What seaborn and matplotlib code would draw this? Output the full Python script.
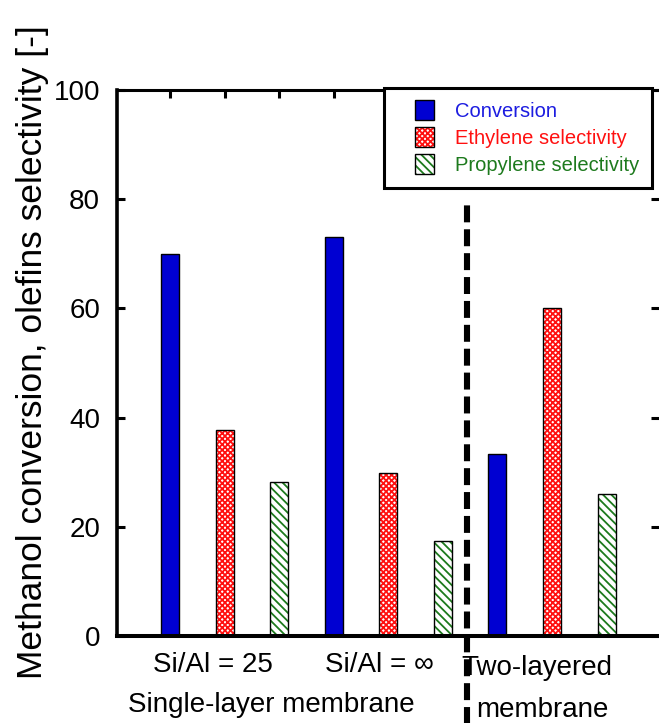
import numpy as np
import pandas as pd
import matplotlib.pyplot as plt
import seaborn as sns
from matplotlib.patches import Patch, Rectangle
from matplotlib.legend_handler import HandlerPatch

# values
groups = ["Si/Al = 25", "Si/Al = \u221e", "Two-layered membrane"]
series = ["Conversion", "Ethylene selectivity", "Propylene selectivity"]
conversion = [70.0, 73.1, 33.3]
ethylene = [37.7, 29.9, 60.0]
propylene = [28.2, 17.4, 26.0]

sns.set_style("ticks")
plt.rcParams["font.family"] = ["Liberation Sans", "DejaVu Sans"]
plt.rcParams["text.color"] = "black"
plt.rcParams["xtick.color"] = "black"
plt.rcParams["ytick.color"] = "black"
plt.rcParams["hatch.linewidth"] = 1.3
plt.rcParams["lines.scale_dashes"] = False

rows = []
for g, c, e, p in zip(groups, conversion, ethylene, propylene):
    for s, v in zip(series, [c, e, p]):
        rows.append({"key": g + " | " + s, "series": s, "value": v})
df = pd.DataFrame(rows)
order = list(df["key"])

face = {"Conversion": "#0000d2", "Ethylene selectivity": "white", "Propylene selectivity": "white"}
hatch_col = {"Conversion": "#0000d2", "Ethylene selectivity": "#ff1010", "Propylene selectivity": "#1d7a1d"}
hatches = {"Conversion": None, "Ethylene selectivity": "xxxxxx", "Propylene selectivity": "\\\\\\\\"}
text_col = {"Conversion": "#1c1ce0", "Ethylene selectivity": "#ff1010", "Propylene selectivity": "#1d7a1d"}

fig = plt.figure(figsize=(6.59, 7.23), dpi=100)
ax = fig.add_axes([117 / 659, 1 - 636 / 723, 1 - 117 / 659, (636 - 90) / 723])

sns.barplot(data=df, x="key", y="value", hue="series", order=order, hue_order=series,
            palette=face, dodge=False, width=0.33, legend=False, ax=ax)

for s, cont in zip(series, ax.containers):
    for bar in cont:
        bar.set_facecolor(face[s])
        bar.set_edgecolor(hatch_col[s])
        bar.set_linewidth(0)
        if hatches[s]:
            bar.set_hatch(hatches[s])
        ax.add_patch(Rectangle(bar.get_xy(), bar.get_width(), bar.get_height(),
                               fill=False, edgecolor="black", lw=1.0, zorder=3))

ax.set_xlim(-0.97, 8.96)
ax.set_ylim(0, 100)
ax.set_yticks([0, 20, 40, 60, 80, 100])
ax.set_xticks(range(len(order)))
ax.set_xticklabels([])
ax.set_xlabel("")
ax.set_ylabel("")
ax.tick_params(axis="both", direction="in", length=6, width=2.2, top=True, right=True,
               labeltop=False, labelright=False)
ax.tick_params(axis="y", labelsize=20, pad=12.2)
ax.tick_params(axis="x", labelbottom=False)

ax.spines["right"].set_visible(False)
ax.spines["left"].set_linewidth(2.6)
ax.spines["bottom"].set_linewidth(2.9)
ax.spines["top"].set_linewidth(2.2)
for sp in ax.spines.values():
    sp.set_color("black")

# divider between the two membrane types
ax.plot([5.45, 5.45], [-17, 78.9], color="black", lw=4.4, linestyle=(0, (12.2, 5.0)),
        clip_on=False, zorder=4)

trans = ax.get_xaxis_transform()
fs = 20
ax.text(0.79, -0.066, groups[0], transform=trans, ha="center", va="baseline", fontsize=fs)
ax.text(3.83, -0.066, groups[1], transform=trans, ha="center", va="baseline", fontsize=fs)
ax.text(1.85, -0.139, "Single-layer membrane", transform=trans, ha="center", va="baseline", fontsize=fs)
ax.text(6.72, -0.0714, "Two-layered", transform=trans, ha="center", va="baseline", fontsize=fs)
ax.text(6.83, -0.148, "membrane", transform=trans, ha="center", va="baseline", fontsize=fs)

fig.text(33 / 659, 1 - 352 / 723, "Methanol conversion, olefins selectivity [-]",
         rotation=90, ha="center", va="center", fontsize=25.5)


class OutlinedSquare(HandlerPatch):
    # hatched square at the right end of the handle area, with a black outline
    def create_artists(self, legend, orig_handle, xdescent, ydescent, width, height,
                       fontsize, trans):
        size = height + 1
        sq = Rectangle((width - size - xdescent, -ydescent - 0.5), size, size)
        self.update_prop(sq, orig_handle, legend)
        sq.set_transform(trans)
        outline = Rectangle(sq.get_xy(), size, size, fill=False, edgecolor="black",
                            lw=1.0, transform=trans)
        return [sq, outline]


handles = [Patch(facecolor=face[s], edgecolor=hatch_col[s], hatch=hatches[s], lw=0) for s in series]
leg = ax.legend(handles, series, loc="upper left", bbox_to_anchor=(0.493, 1.004),
                borderaxespad=0, fontsize=14.5, handlelength=1.83, handleheight=1.0,
                handletextpad=1.04, labelspacing=0.35, borderpad=0.65, fancybox=False,
                frameon=True, framealpha=1,
                handler_map={Patch: OutlinedSquare()})
leg.get_frame().set_edgecolor("black")
leg.get_frame().set_linewidth(2.2)
for t, s in zip(leg.get_texts(), series):
    t.set_color(text_col[s])
leg.set_zorder(5)

fig.savefig("out.png", dpi=100)
